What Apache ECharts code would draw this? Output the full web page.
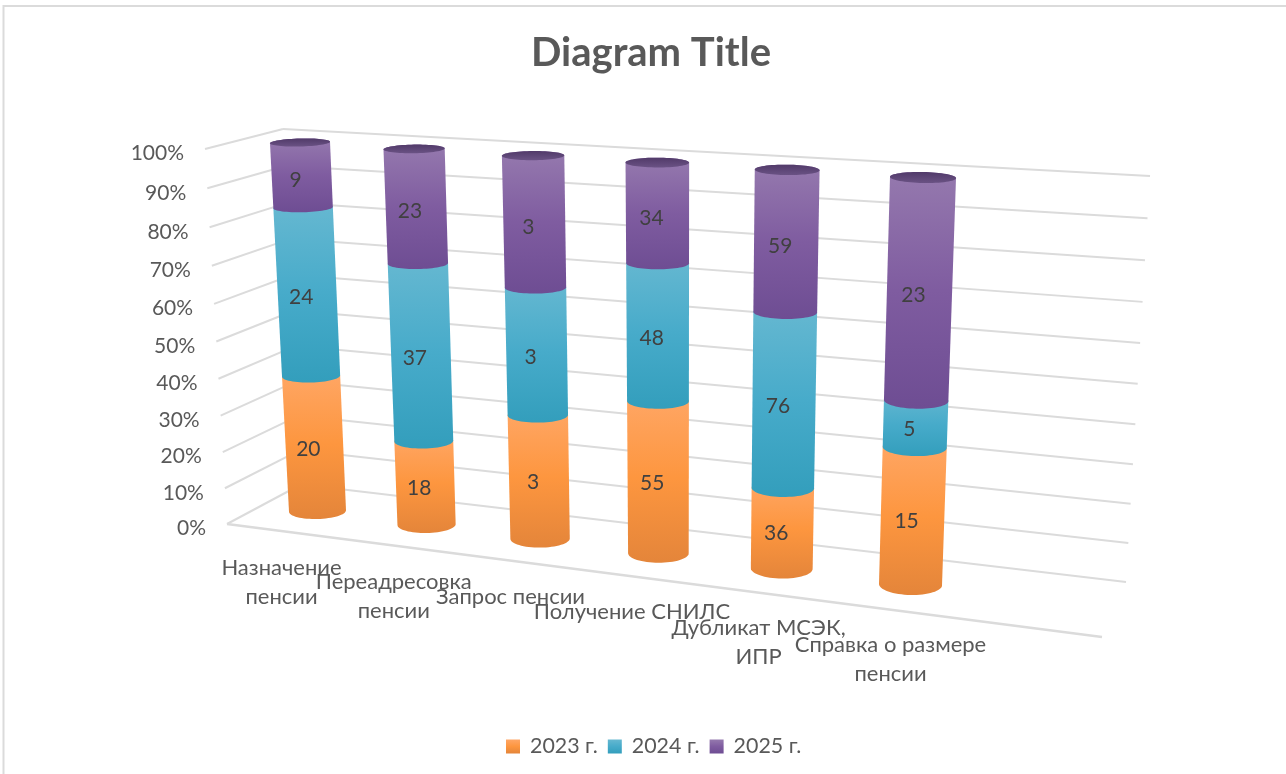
<!DOCTYPE html>
<html>
<head>
<meta charset="utf-8">
<style>
  html, body { margin: 0; padding: 0; background: #fff; }
  #chart { width: 1286px; height: 774px; }
</style>
<script src="https://cdn.jsdelivr.net/npm/echarts@6/dist/echarts.min.js"></script>
</head>
<body>
<div id="chart"></div>
<script>
const categories = ['Назначение\nпенсии', 'Переадресовка\nпенсии', 'Запрос пенсии', 'Получение СНИЛС', 'Дубликат МСЭК,\nИПР', 'Справка о размере\nпенсии']
const years = ['2023 г.', '2024 г.', '2025 г.']
const values2023 = [20, 18, 3, 55, 36, 15]
const values2024 = [24, 37, 3, 48, 76, 5]
const values2025 = [9, 23, 3, 34, 59, 23]
const tickValues = [0, 10, 20, 30, 40, 50, 60, 70, 80, 90, 100]
const tickLabels = ['0%', '10%', '20%', '30%', '40%', '50%', '60%', '70%', '80%', '90%', '100%']

const FONT = 'Lato, Carlito, "Noto Sans", sans-serif'
const TEXT_COLOR = '#595959'
const GRID_COLOR = '#DBDBDB'

const gradient = (stops) => ({
  type: 'linear', x: 0, y: 0, x2: 0, y2: 1,
  colorStops: stops.map((c, i) => ({ offset: i / (stops.length - 1), color: c }))
})
const fills = [
  gradient(['#FFA766', '#FD963F', '#E4853A']),
  gradient(['#66B8D1', '#47ABCA', '#339EBC']),
  gradient(['#9579AE', '#7F5CA0', '#6E4D93'])
]
const capFill = gradient(['#513A69', '#6A5284'])

// projective map of the unit square, p = [u0v0, u1v0, u1v1, u0v1]
function makeProjection(p) {
  const [[x0, y0], [x1, y1], [x2, y2], [x3, y3]] = p
  const dx1 = x1 - x2, dx2 = x3 - x2, sx = x0 - x1 + x2 - x3
  const dy1 = y1 - y2, dy2 = y3 - y2, sy = y0 - y1 + y2 - y3
  const den = dx1 * dy2 - dx2 * dy1
  const g = (sx * dy2 - dx2 * sy) / den
  const h = (dx1 * sy - sx * dy1) / den
  const a = x1 - x0 + g * x1, b = x3 - x0 + h * x3
  const d = y1 - y0 + g * y1, e = y3 - y0 + h * y3
  return (u, v) => {
    const w = g * u + h * v + 1
    return [(a * u + b * v + x0) / w, (d * u + e * v + y0) / w]
  }
}

// bar axis plane: first/last bar, bottom and top centres
const barPlane = makeProjection([[317.5, 511], [910.5, 584.5], [923, 177.5], [300, 142.5]])
const leftWall = makeProjection([[227, 524], [300, 485], [283, 129], [205, 149]])
const backWall = makeProjection([[297, 484], [1126, 582], [1150, 176], [283, 129]])
const floorFrontRight = [1102, 637]

// read the unit position of a value from the hidden cartesian axes
function toUnit(api, index, value) {
  const origin = api.coord([0, 0])
  const corner = api.coord([categories.length - 1, 100])
  const p = api.coord([index, value])
  return [(p[0] - origin[0]) / (corner[0] - origin[0]), (p[1] - origin[1]) / (corner[1] - origin[1])]
}

function ellipseFrame(s, t) {
  return {
    c: barPlane(s, t),
    a: 28.5 + 3 * s + 1.5 * t,
    b: (8 + 2.5 * s) * (1 - t) + (4 + 1.5 * s) * t,
    tilt: -0.025 + 0.045 * s
  }
}
function ellipsePoint(f, ang) {
  const dx = f.a * Math.cos(ang)
  return [f.c[0] + dx, f.c[1] + dx * f.tilt + f.b * Math.sin(ang)]
}

function renderSegment(color, topSeries) {
  return (params, api) => {
    const i = api.value(0)
    const [s, t0] = toUnit(api, i, api.value(1))
    const t1 = toUnit(api, i, api.value(2))[1]
    const bottom = ellipseFrame(s, t0), top = ellipseFrame(s, t1)
    const pts = []
    // lower arc from right to left at the bottom, upper arc left to right at the top
    for (let k = 0; k <= 32; k++) pts.push(ellipsePoint(bottom, Math.PI * k / 32))
    for (let k = 0; k <= 32; k++) pts.push(ellipsePoint(top, Math.PI + Math.PI * k / 32))
    const children = [{ type: 'polygon', shape: { points: pts }, style: { fill: color } }]
    if (topSeries) {
      const cap = []
      for (let k = 0; k < 64; k++) cap.push(ellipsePoint(top, 2 * Math.PI * k / 64))
      children.push({ type: 'polygon', shape: { points: cap }, style: { fill: capFill } })
    }
    const mid = barPlane(s, (t0 + t1) / 2)
    children.push({
      type: 'text',
      z2: 10,
      style: {
        text: String(api.value(3)), x: mid[0] - 6, y: mid[1] + 5,
        fill: '#404040', font: '21px ' + FONT, textAlign: 'center', textVerticalAlign: 'middle'
      }
    })
    return { type: 'group', children }
  }
}

function renderGridLine(params, api) {
  const v = toUnit(api, 0, api.value(1))[1]
  const front = leftWall(0, v)
  const lineStyle = { stroke: GRID_COLOR, lineWidth: 2, fill: 'none' }
  const children = [
    { type: 'polyline', shape: { points: [front, leftWall(1, v)] }, style: lineStyle },
    { type: 'polyline', shape: { points: [backWall(0, v), backWall(1, v)] }, style: lineStyle },
    {
      type: 'text',
      style: {
        text: tickLabels[params.dataIndex], x: front[0] - 21, y: front[1] + 4.5,
        fill: TEXT_COLOR, font: '21px ' + FONT, textAlign: 'right', textVerticalAlign: 'middle'
      }
    }
  ]
  if (v === 0) {
    // front edge of the floor
    children.push({
      type: 'polyline',
      shape: { points: [front, floorFrontRight] },
      style: { stroke: GRID_COLOR, lineWidth: 2.5, fill: 'none' }
    })
  }
  return { type: 'group', children }
}

function renderCategoryLabel(params, api) {
  const [s] = toUnit(api, api.value(0), 0)
  const base = barPlane(s, 0)
  return {
    type: 'text',
    style: {
      text: categories[params.dataIndex],
      x: base[0] - 36 + 16 * s,
      y: base[1] + 57 + 3 * s - 14.5,
      fill: TEXT_COLOR, font: '22px ' + FONT, lineHeight: 29,
      textAlign: 'center', textVerticalAlign: 'top'
    }
  }
}

const seriesValues = [values2023, values2024, values2025]
const totals = categories.map((c, i) => seriesValues.reduce((sum, arr) => sum + arr[i], 0))
const stackedData = seriesValues.map((arr, n) => arr.map((val, i) => {
  const before = seriesValues.slice(0, n).reduce((sum, a) => sum + a[i], 0)
  return [i, before / totals[i] * 100, (before + val) / totals[i] * 100, val]
}))

const chart = echarts.init(document.getElementById('chart'), null, { renderer: 'canvas' })
chart.setOption({
  animation: false,
  backgroundColor: '#fff',
  title: {
    text: 'Diagram Title', left: 646, top: 28, textAlign: 'center',
    textStyle: { fontFamily: FONT, fontSize: 40, fontWeight: 'bold', color: TEXT_COLOR }
  },
  legend: {
    data: years, left: 506, top: 736, padding: 0, itemGap: 10, itemWidth: 14, itemHeight: 14, icon: 'rect',
    selectedMode: false,
    textStyle: { fontFamily: FONT, fontSize: 21.4, color: TEXT_COLOR, padding: [0, 0, 0, 5] }
  },
  grid: { left: 0, right: 0, top: 0, bottom: 0 },
  xAxis: { type: 'category', data: categories, show: false },
  yAxis: { type: 'value', min: 0, max: 100, interval: 10, show: false },
  graphic: [{
    type: 'rect', z: -10, silent: true,
    shape: { x: 3.5, y: 6, width: 1400, height: 900 },
    style: { fill: 'none', stroke: GRID_COLOR, lineWidth: 2 }
  }],
  series: [
    {
      type: 'custom', name: 'grid', silent: true, clip: false,
      data: tickValues.map((v) => [0, v]), encode: { x: 0, y: 1 },
      renderItem: renderGridLine
    },
    {
      type: 'custom', name: 'labels', silent: true, clip: false,
      data: categories.map((c, i) => [i, 0]), encode: { x: 0, y: 1 },
      renderItem: renderCategoryLabel
    }
  ].concat(years.map((year, n) => ({
    type: 'custom', name: year, silent: true, clip: false,
    itemStyle: { color: fills[n] },
    data: stackedData[n], encode: { x: 0, y: [1, 2] },
    renderItem: renderSegment(fills[n], n === years.length - 1)
  })))
})
</script>
</body>
</html>
